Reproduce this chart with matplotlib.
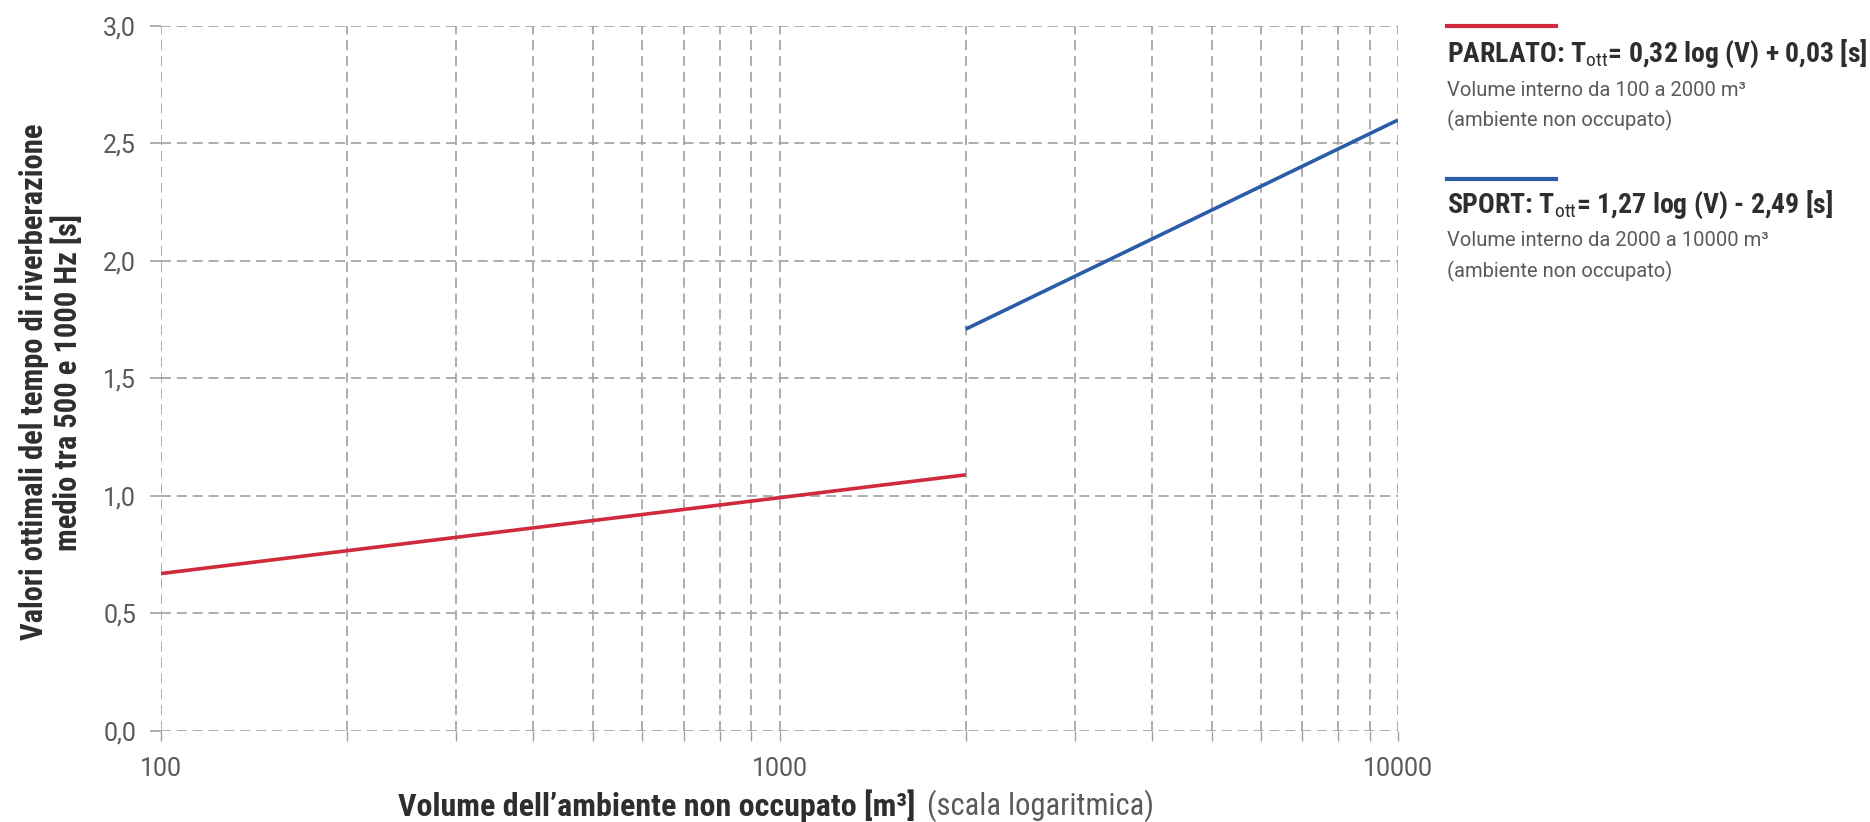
"""Tempo di riverberazione ottimale vs volume (scala log), parlato e sport."""
import matplotlib
matplotlib.use("Agg")
import matplotlib.pyplot as plt
from matplotlib import font_manager
from matplotlib.ticker import FixedLocator, NullFormatter

# --- data ---
parlato_v = [100, 2000]
parlato_t = [0.67, 1.09]
sport_v = [2000, 10000]
sport_t = [1.71, 2.60]
x_major = [100, 1000, 10000]
x_major_labels = ["100", "1000", "10000"]
x_minor = [200, 300, 400, 500, 600, 700, 800, 900,
           2000, 3000, 4000, 5000, 6000, 7000, 8000, 9000]
y_ticks = [0.0, 0.5, 1.0, 1.5, 2.0, 2.5, 3.0]
y_labels = ["0,0", "0,5", "1,0", "1,5", "2,0", "2,5", "3,0"]

RED, BLUE = "#d02a3c", "#2a5ca8"
GRID, TXT, DARK = "#a0a0a0", "#5a5a5a", "#2e2e2e"

names = {f.name for f in font_manager.fontManager.ttflist}
COND = "Roboto Condensed" if "Roboto Condensed" in names else "Roboto"
plt.rcParams["font.family"] = ["Roboto", "DejaVu Sans"]
plt.rcParams["mathtext.fontset"] = "custom"
plt.rcParams["mathtext.rm"] = COND
plt.rcParams["mathtext.it"] = COND

fig = plt.figure(figsize=(18.7, 8.22), dpi=100)
ax = fig.add_axes([0.0861, 0.1107, 0.6615, 0.8577])

ax.plot(parlato_v, parlato_t, color=RED, lw=2.6, solid_capstyle="butt", zorder=3)
ax.plot(sport_v, sport_t, color=BLUE, lw=2.6, solid_capstyle="butt", zorder=3)

ax.set_xscale("log")
ax.set_xlim(100, 10000)
ax.set_ylim(0, 3.0)
ax.xaxis.set_major_locator(FixedLocator(x_major))
ax.set_xticklabels(x_major_labels)
ax.xaxis.set_minor_locator(FixedLocator(x_minor))
ax.xaxis.set_minor_formatter(NullFormatter())
ax.set_yticks(y_ticks)
ax.set_yticklabels(y_labels)

for s in ax.spines.values():
    s.set_visible(False)
dash = (0, (6, 3.5))
ax.grid(True, which="both", axis="x", color=GRID, lw=1.2, linestyle=dash)
ax.grid(True, which="major", axis="y", color=GRID, lw=1.2, linestyle=dash)
ax.tick_params(axis="x", which="both", length=7, width=1, color=GRID,
               labelsize=18, labelcolor=TXT, pad=12)
ax.tick_params(axis="y", length=8, width=1.2, color=GRID,
               labelsize=18, labelcolor=TXT, pad=10)

ax.set_ylabel("Valori ottimali del tempo di riverberazione\nmedio tra 500 e 1000 Hz [s]",
              fontsize=22, fontweight="bold", color=DARK, family=COND,
              linespacing=1.1)
ax.yaxis.set_label_coords(-0.089, 0.495)
ax.yaxis.label.set_va("center")

# x label: bold part + regular part
fig.text(0.351, 0.0195, "Volume dell\u2019ambiente non occupato [m\u00b3]", ha="center",
         va="center", fontsize=23, fontweight="bold", color=DARK, family=COND)
fig.text(0.4957, 0.0195, "(scala logaritmica)", ha="left", va="center",
         fontsize=22, color=TXT, family=COND)

# legend on the right
lx0, lx1 = 1447 / 1870, 1556 / 1870
for ly, col in [(1 - 26 / 822, RED), (1 - 179 / 822, BLUE)]:
    fig.add_artist(plt.Line2D([lx0, lx1], [ly, ly], color=col, lw=3,
                              transform=fig.transFigure))

entries = [
    ("PARLATO: T$_{\\mathrm{ott}}$= 0,32 log (V) + 0,03 [s]",
     "Volume interno da 100 a 2000 m\u00b3", 54),
    ("SPORT: T$_{\\mathrm{ott}}$= 1,27 log (V) - 2,49 [s]",
     "Volume interno da 2000 a 10000 m\u00b3", 205),
]
for head, sub, ypx in entries:
    fig.text(lx0, 1 - ypx / 822, head, fontsize=20, fontweight="bold",
             color=DARK, family=COND, va="center")
    fig.text(lx0, 1 - (ypx + 36) / 822, sub, fontsize=14.5, color=TXT,
             va="center")
    fig.text(lx0, 1 - (ypx + 66) / 822, "(ambiente non occupato)", fontsize=14.5,
             color=TXT, va="center")

fig.savefig("out.png", dpi=100)
